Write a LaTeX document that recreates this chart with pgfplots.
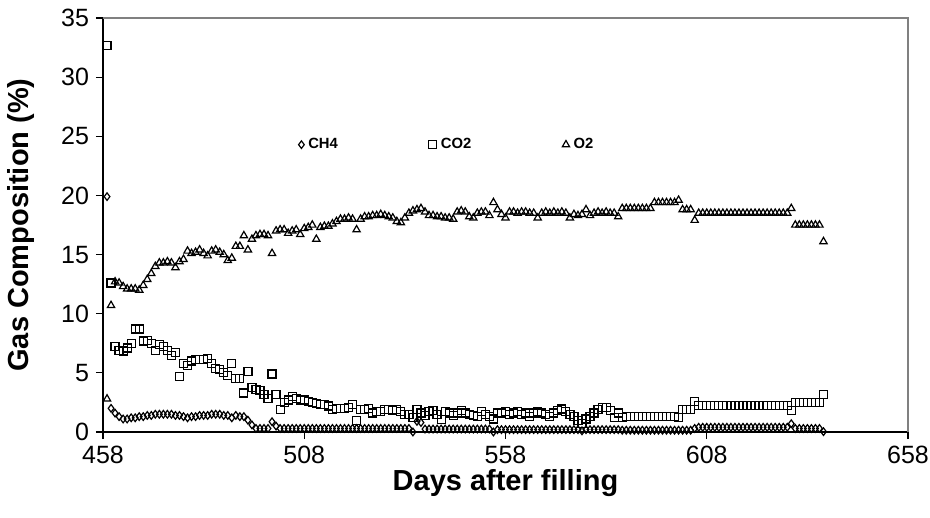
\documentclass[border=0pt]{standalone}
\usepackage{fontspec}
\setmainfont{Liberation Sans}
\usepackage{pgfplots}
\usepackage{pgfplotstable}
\pgfplotsset{compat=1.18}
\pgfplotstableread{
d ch4 co2 o2
459 19.9 32.7 2.8
460 2.0 12.6 10.7
461 1.6 7.2 12.7
462 1.3 6.9 12.6
463 1.1 6.85 12.3
464 1.1 7.1 12.1
465 1.2 7.5 12.1
466 1.2 8.7 12.1
467 1.3 8.7 12.0
468 1.3 7.7 12.4
469 1.4 7.75 12.9
470 1.4 7.5 13.4
471 1.5 6.9 14.0
472 1.5 7.4 14.3
473 1.5 7.2 14.3
474 1.5 6.9 14.4
475 1.5 6.5 14.3
476 1.4 6.7 13.9
477 1.4 4.7 14.4
478 1.3 5.8 14.6
479 1.2 5.6 15.3
480 1.3 6.0 15.1
481 1.3 6.1 15.2
482 1.4 6.1 15.4
483 1.4 6.1 15.1
484 1.4 6.2 14.9
485 1.5 5.8 15.3
486 1.5 5.4 15.4
487 1.5 5.3 15.2
488 1.4 5.0 15.0
489 1.4 4.8 14.5
490 1.2 5.8 14.7
491 1.4 4.5 15.7
492 1.3 4.5 15.7
493 1.3 3.3 16.6
494 1.0 5.1 15.4
495 0.6 3.75 16.3
496 0.3 3.6 16.6
497 0.3 3.5 16.7
498 0.3 3.2 16.7
499 0.3 2.85 16.6
500 0.87 4.9 15.1
501 0.5 3.2 17.0
502 0.3 1.9 17.1
503 0.3 2.5 17.1
504 0.3 2.7 16.8
505 0.3 3.0 17.0
506 0.3 2.8 17.1
507 0.3 2.7 16.7
508 0.3 2.7 17.2
509 0.3 2.6 17.3
510 0.3 2.5 17.5
511 0.3 2.4 16.3
512 0.3 2.3 17.3
513 0.3 2.3 17.4
514 0.3 2.2 17.4
515 0.3 1.9 17.6
516 0.3 2.0 17.8
517 0.3 2.0 18.0
518 0.3 2.0 18.0
519 0.3 2.1 18.1
520 0.3 2.3 18.0
521 0.3 1.0 17.1
522 0.3 1.9 18.0
523 0.3 1.9 18.2
524 0.3 2.0 18.2
525 0.3 1.6 18.3
526 0.3 1.7 18.3
527 0.3 1.7 18.4
528 0.3 1.9 18.3
529 0.3 1.9 18.2
530 0.3 1.8 18.1
531 0.3 1.9 17.8
532 0.3 1.7 17.7
533 0.3 1.5 18.1
534 0.3 1.5 18.5
535 0.0 1.25 18.7
536 0.9 1.9 18.8
537 0.8 1.6 18.9
538 0.25 1.4 18.6
539 0.25 1.7 18.3
540 0.25 1.8 18.3
541 0.25 1.5 18.2
542 0.25 1.07 18.2
543 0.25 1.7 18.1
544 0.25 1.6 18.1
545 0.25 1.4 18.0
546 0.25 1.6 18.6
547 0.25 1.8 18.7
548 0.25 1.6 18.6
549 0.25 1.5 18.2
550 0.25 1.4 18.1
551 0.25 1.3 18.5
552 0.25 1.7 18.6
553 0.25 1.5 18.6
554 0.25 1.3 18.3
555 0.0 1.1 19.4
556 0.2 1.6 18.8
557 0.2 1.6 18.4
558 0.2 1.7 18.1
559 0.2 1.5 18.6
560 0.2 1.6 18.6
561 0.2 1.7 18.5
562 0.2 1.5 18.6
563 0.2 1.6 18.6
564 0.2 1.3 18.5
565 0.2 1.6 18.5
566 0.2 1.7 18.1
567 0.2 1.6 18.5
568 0.2 1.5 18.6
569 0.2 1.3 18.5
570 0.2 1.6 18.6
571 0.2 1.8 18.5
572 0.2 1.95 18.6
573 0.2 1.7 18.5
574 0.2 1.5 18.1
575 0.2 1.3 18.4
576 0.2 1.0 18.3
577 0.1 0.7 18.4
578 0.2 1.1 18.8
579 0.2 1.3 18.3
580 0.2 1.6 18.5
581 0.2 1.9 18.6
582 0.2 2.1 18.5
583 0.2 2.1 18.6
584 0.2 1.8 18.5
585 0.2 1.2 18.5
586 0.2 1.6 18.2
587 0.15 1.2 18.9
588 0.15 1.3 18.9
589 0.15 1.3 18.9
590 0.15 1.3 18.9
591 0.15 1.3 18.9
592 0.15 1.3 18.9
593 0.15 1.3 18.9
594 0.15 1.3 18.9
595 0.15 1.3 19.4
596 0.15 1.3 19.4
597 0.15 1.3 19.4
598 0.15 1.3 19.4
599 0.15 1.3 19.4
600 0.15 1.3 19.4
601 0.15 1.2 19.6
602 0.15 1.9 18.8
603 0.15 1.9 18.8
604 0.15 1.9 18.8
605 0.3 2.6 17.9
606 0.4 2.25 18.5
607 0.4 2.25 18.5
608 0.4 2.25 18.5
609 0.4 2.25 18.5
610 0.4 2.25 18.5
611 0.4 2.25 18.5
612 0.4 2.25 18.5
613 0.4 2.25 18.5
614 0.4 2.25 18.5
615 0.4 2.25 18.5
616 0.4 2.25 18.5
617 0.4 2.25 18.5
618 0.4 2.25 18.5
619 0.4 2.25 18.5
620 0.4 2.25 18.5
621 0.4 2.25 18.5
622 0.4 2.25 18.5
623 0.4 2.25 18.5
624 0.4 2.25 18.5
625 0.4 2.25 18.5
626 0.4 2.25 18.5
627 0.4 2.25 18.5
628 0.4 2.25 18.5
629 0.7 1.8 18.9
630 0.3 2.5 17.5
631 0.3 2.5 17.5
632 0.3 2.5 17.5
633 0.3 2.5 17.5
634 0.3 2.5 17.5
635 0.3 2.5 17.5
636 0.3 2.5 17.5
637 0.03 3.2 16.1
}\gasdata
\begin{document}
\begin{tikzpicture}
\path[use as bounding box] (-51.5pt,-43pt) rectangle (413.5pt,216pt);
\begin{axis}[
  width=402.5pt, height=207pt, scale only axis,
  xmin=458, xmax=658, ymin=0, ymax=35,
  xtick={458,508,558,608,658}, ytick={0,5,...,35},
  axis x line*=bottom, axis y line*=left,
  tick align=outside, major tick length=3.5pt,
  tick style={black, line width=0.6pt},
  axis line style={black, line width=0.6pt},
  ticklabel style={font=\fontsize{12.5}{14}\selectfont},
  /pgf/number format/assume math mode=true,
  /pgf/number format/1000 sep={},
  xlabel={Days after filling}, ylabel={Gas Composition (\%)},
  label style={font=\bfseries\fontsize{14.5}{16}\selectfont},
  xlabel style={at={(axis description cs:0.5,-0.1232)}, anchor=center},
  ylabel style={at={(axis description cs:-0.1019,0.5)}, anchor=center},
  legend style={draw=none, fill=none, at={(axis description cs:0.235,0.694)}, anchor=west,
    font=\bfseries\fontsize{7.4}{9}\selectfont, legend columns=3,
    /tikz/every even column/.append style={column sep=43.5pt}},
  legend image code/.code={\draw[#1] plot coordinates {(0pt,0pt)};},
  clip=false,
]
\draw[color=gray, line width=0.65pt] (rel axis cs:0,1) -- (rel axis cs:1,1) -- (rel axis cs:1,0);
\addplot[only marks, mark=diamond, mark size=1.9pt, mark options={draw=black, fill=none, line width=0.6pt}] table[x=d,y=ch4]{\gasdata};
\addlegendentry{CH4}
\addplot[only marks, mark=square, mark size=2pt, mark options={draw=black, fill=none, line width=0.6pt}] table[x=d,y=co2]{\gasdata};
\addlegendentry{CO2}
\addplot[only marks, mark=triangle, mark size=2.1pt, mark options={draw=black, fill=none, line width=0.6pt}] table[x=d,y=o2]{\gasdata};
\addlegendentry{O2}
\end{axis}
\end{tikzpicture}
\end{document}
